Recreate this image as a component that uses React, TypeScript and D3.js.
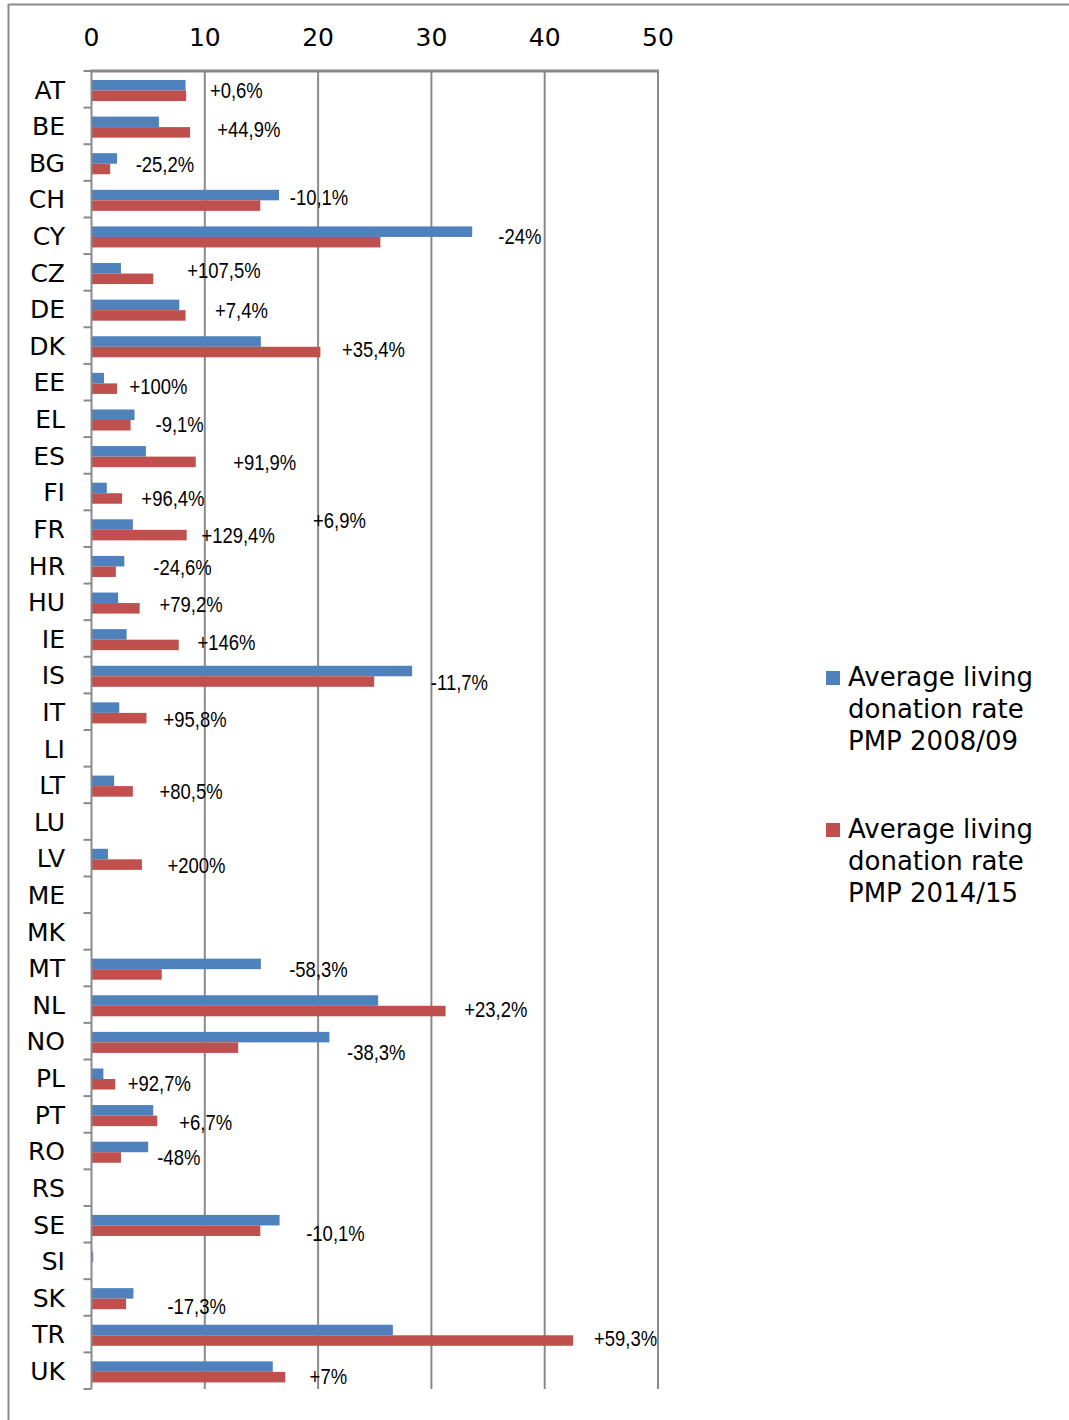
import * as d3 from "d3";

const COUNTRIES = [
  "AT", "BE", "BG", "CH", "CY", "CZ", "DE", "DK", "EE", "EL", "ES", "FI", "FR", "HR", "HU", "IE", "IS", "IT",
  "LI", "LT", "LU", "LV", "ME", "MK", "MT", "NL", "NO", "PL", "PT", "RO", "RS", "SE", "SI", "SK", "TR", "UK",
];

// average living donation rate, per million population
const RATE_0809 = [
  8.3, 5.95, 2.25, 16.55, 33.6, 2.6, 7.75, 14.95, 1.1, 3.8, 4.8, 1.35, 3.65, 2.9, 2.35, 3.1, 28.3, 2.45,
  null, 2.0, null, 1.45, null, null, 14.95, 25.3, 21.0, 1.05, 5.45, 5.0, null, 16.6, 0.15, 3.7, 26.6, 16.0,
];
const RATE_1415 = [
  8.35, 8.7, 1.65, 14.9, 25.5, 5.45, 8.3, 20.2, 2.25, 3.45, 9.2, 2.7, 8.4, 2.15, 4.25, 7.7, 24.95, 4.85,
  null, 3.65, null, 4.45, null, null, 6.2, 31.25, 12.95, 2.1, 5.8, 2.6, null, 14.9, null, 3.05, 42.5, 17.1,
];

// change labels: text, start (in rate units), row (in category units from top)
const CHANGE_TEXT = [
  "+0,6%", "+44,9%", "-25,2%", "-10,1%", "-24%", "+107,5%", "+7,4%", "+35,4%", "+100%", "-9,1%", "+91,9%",
  "+96,4%", "+129,4%", "+6,9%", "-24,6%", "+79,2%", "+146%", "-11,7%", "+95,8%", "+80,5%", "+200%", "-58,3%",
  "+23,2%", "-38,3%", "+92,7%", "+6,7%", "-48%", "-10,1%", "-17,3%", "+59,3%", "+7%",
];
const CHANGE_AT = [
  10.45, 11.1, 3.9, 17.5, 35.9, 8.45, 10.9, 22.1, 3.35, 5.65, 12.5, 4.4, 9.7, 19.55, 5.45, 6.0, 9.35, 29.95,
  6.35, 6.0, 6.7, 17.45, 32.9, 22.55, 3.2, 7.75, 5.8, 18.95, 6.7, 44.35, 19.25,
];
const CHANGE_ROW = [
  0.52, 1.58, 2.54, 3.44, 4.51, 5.44, 6.53, 7.59, 8.6, 9.64, 10.68, 11.66, 12.67, 12.26, 13.55, 14.56, 15.6,
  16.69, 17.7, 19.67, 21.69, 24.53, 25.62, 26.8, 27.64, 28.71, 29.66, 31.74, 33.73, 34.61, 35.65,
];

const TICKS = [0, 10, 20, 30, 40, 50];

const SERIES = [
  { key: "a", values: RATE_0809, color: "#4F81BD", label: ["Average living", "donation rate", "PMP 2008/09"] },
  { key: "b", values: RATE_1415, color: "#C0504D", label: ["Average living", "donation rate", "PMP 2014/15"] },
];

const W = 1069;
const H = 1420;
const GRID = "#8a8a8a";
const SANS = "Verdana, 'DejaVu Sans', sans-serif";
const NARROW = "'Liberation Sans', Arial, sans-serif";

export default function App() {
  const m = { top: 71, left: 91.5, right: 658, bottom: 1389 };

  const x = d3.scaleLinear().domain([0, 50]).range([m.left, m.right]);
  const y = d3.scaleBand<string>().domain(COUNTRIES).range([m.top, m.bottom]).padding(0);
  const step = y.step();
  const inner = d3
    .scaleBand<string>()
    .domain(SERIES.map((s) => s.key))
    .range([step * 0.245, step * 0.82])
    .padding(0);
  const row = d3.scaleLinear().domain([0, COUNTRIES.length]).range([m.top, m.bottom]);

  return (
    <svg
      width={W}
      height={H}
      style={{ position: "absolute", left: 0, top: 0, display: "block", background: "#fff" }}
    >
      {/* outer frame */}
      <line x1={8.5} x2={8.5} y1={4} y2={H} stroke={GRID} strokeWidth={2} />
      <line x1={8.5} x2={W} y1={4.5} y2={4.5} stroke={GRID} strokeWidth={2} />

      {/* grid */}
      {TICKS.filter((t) => t > 0).map((t) => (
        <line key={t} x1={x(t)} x2={x(t)} y1={m.top} y2={m.bottom} stroke={GRID} strokeWidth={2} />
      ))}

      {/* bars */}
      {SERIES.map((s) =>
        COUNTRIES.map((c, i) => {
          const v = s.values[i];
          if (v == null) return null;
          return (
            <rect
              key={s.key + c}
              x={x(0)}
              y={(y(c) ?? 0) + (inner(s.key) ?? 0)}
              width={x(v) - x(0)}
              height={inner.bandwidth()}
              fill={s.color}
            />
          );
        })
      )}

      {/* top axis */}
      <line x1={m.left - 1} x2={m.right + 1} y1={m.top} y2={m.top} stroke={GRID} strokeWidth={3} />
      {TICKS.map((t) => (
        <text
          key={t}
          x={x(t)}
          y={46}
          textAnchor="middle"
          fontFamily={SANS}
          fontSize={25}
          fill="#000"
        >
          {t}
        </text>
      ))}

      {/* left axis */}
      <line x1={m.left} x2={m.left} y1={m.top} y2={m.bottom} stroke={GRID} strokeWidth={2} />
      {d3.range(COUNTRIES.length + 1).map((i) => (
        <line key={i} x1={m.left - 8} x2={m.left} y1={row(i)} y2={row(i)} stroke={GRID} strokeWidth={2} />
      ))}
      {COUNTRIES.map((c) => (
        <text
          key={c}
          x={65}
          y={(y(c) ?? 0) + step / 2}
          dy="0.37em"
          textAnchor="end"
          fontFamily={SANS}
          fontSize={25}
          fill="#000"
        >
          {c}
        </text>
      ))}

      {/* change labels, condensed */}
      {CHANGE_TEXT.map((t, i) => (
        <g key={i} transform={`translate(${x(CHANGE_AT[i])},${row(CHANGE_ROW[i])}) scale(0.84,1)`}>
          <text dy="0.36em" fontFamily={NARROW} fontSize={22} fill="#000">
            {t}
          </text>
        </g>
      ))}

      {/* legend */}
      {SERIES.map((s, si) => {
        const top = 671 + si * 152;
        return (
          <g key={s.key}>
            <rect x={826} y={top} width={14} height={14} fill={s.color} />
            {s.label.map((l, li) => (
              <text key={li} x={848} y={top + 15 + li * 32} fontFamily={SANS} fontSize={26} fill="#000">
                {l}
              </text>
            ))}
          </g>
        );
      })}
    </svg>
  );
}
